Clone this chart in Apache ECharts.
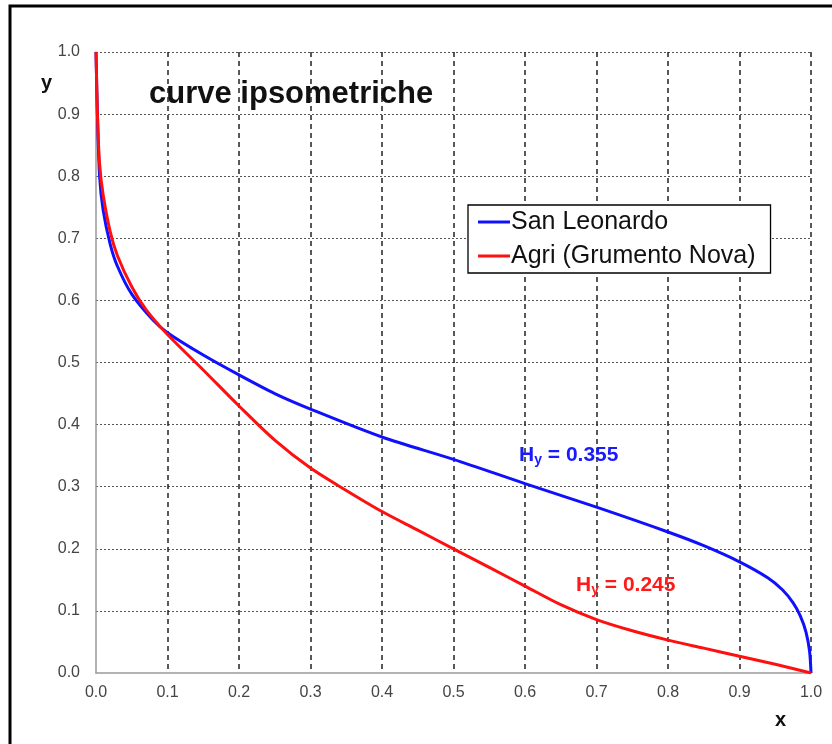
<!DOCTYPE html>
<html><head><meta charset="utf-8">
<script src="https://cdn.jsdelivr.net/npm/echarts@6/dist/echarts.min.js"></script>
<style>html,body{margin:0;padding:0;background:#fff}#c{width:832px;height:744px}</style>
</head><body><div id="c"></div>
<script>
const xTicks = [0.0,0.1,0.2,0.3,0.4,0.5,0.6,0.7,0.8,0.9,1.0];
const sanLeonardoX = [0,0.002,0.005,0.01,0.02,0.03,0.05,0.08,0.1,0.15,0.2,0.25,0.3,0.4,0.5,0.6,0.7,0.8,0.85,0.9,0.94,0.96,0.975,0.985,0.993,0.998,1.0];
const sanLeonardoY = [1.0,0.9,0.8,0.745,0.69,0.655,0.61,0.568,0.548,0.512,0.48,0.45,0.425,0.38,0.344,0.305,0.267,0.227,0.205,0.179,0.153,0.134,0.113,0.092,0.066,0.035,0.0];
const agriX = [0,0.002,0.005,0.01,0.02,0.03,0.05,0.07,0.1,0.15,0.2,0.25,0.3,0.35,0.4,0.45,0.5,0.55,0.6,0.65,0.7,0.75,0.8,0.85,0.9,0.95,1.0];
const agriY = [1.0,0.9,0.82,0.77,0.71,0.672,0.622,0.585,0.545,0.488,0.43,0.375,0.33,0.294,0.26,0.23,0.2,0.17,0.14,0.11,0.086,0.068,0.053,0.04,0.027,0.014,0.0];
const seriesNames = ['San Leonardo','Agri (Grumento Nova)'];
const hyLabels = ['0.355','0.245'];

const chart = echarts.init(document.getElementById('c'));
const font = 'Liberation Sans, Arial, sans-serif';
const zip = (a,b)=>a.map((v,i)=>[v,b[i]]);
const hyRich = c => ({a:{fontSize:21,fontWeight:'bold',fontFamily:font,color:c},s:{fontSize:14,fontWeight:'bold',fontFamily:font,color:c,verticalAlign:'bottom',padding:[9,0,0,0]}});
chart.setOption({
  animation:false,
  backgroundColor:'#fff',
  grid:{left:96,right:21,top:52,bottom:71,containLabel:false},
  xAxis:{type:'value',min:0,max:1,interval:0.1,
    axisLine:{show:true,lineStyle:{color:'#999',width:1.5}},
    axisTick:{show:false},
    axisLabel:{color:'#444',fontSize:16,fontFamily:font,margin:12,formatter:v=>v.toFixed(1)},
    splitLine:{show:true,showMinLine:false,lineStyle:{color:'#222',type:[5,4],width:1.5}}},
  yAxis:{type:'value',min:0,max:1,interval:0.1,
    axisLine:{show:true,lineStyle:{color:'#999',width:1.5}},
    axisTick:{show:false},
    axisLabel:{color:'#444',fontSize:16,fontFamily:font,margin:16,formatter:v=>v.toFixed(1)},
    splitLine:{show:true,showMinLine:false,lineStyle:{color:'#555',type:[2,2],width:1}}},
  legend:{orient:'vertical',left:468,top:205,width:302,
    backgroundColor:'#fff',borderColor:'#000',borderWidth:1.3,borderRadius:0,
    padding:[4,15,4,10],itemGap:8,itemWidth:32,itemHeight:3,icon:'rect',
    textStyle:{fontSize:25,lineHeight:26,fontFamily:font,color:'#111',padding:[0,0,0,-4]},
    data:seriesNames},
  title:[
    {text:'curve ipsometriche',left:144,top:74,textStyle:{fontSize:31,fontWeight:'bold',fontFamily:font,color:'#111'}},
    {text:'y',left:36,top:68,textStyle:{fontSize:20,fontWeight:'bold',fontFamily:font,color:'#111'}},
    {text:'x',left:770,top:705,textStyle:{fontSize:20,fontWeight:'bold',fontFamily:font,color:'#111'}},
    {text:'{a|H}{s|y}{a| = '+hyLabels[0]+'}',left:514,top:439,textStyle:{rich:hyRich('#1a1aff')}},
    {text:'{a|H}{s|y}{a| = '+hyLabels[1]+'}',left:571,top:569,textStyle:{rich:hyRich('#ff1a1a')}}
  ],
  graphic:[{type:'rect',shape:{x:10,y:6,width:840,height:760},style:{fill:null,stroke:'#000',lineWidth:3},silent:true,z:100}],
  series:[
    {name:seriesNames[0],type:'line',data:zip(sanLeonardoX,sanLeonardoY),showSymbol:false,smooth:0.3,lineStyle:{color:'#1010ff',width:3},itemStyle:{color:'#1010ff'}},
    {name:seriesNames[1],type:'line',data:zip(agriX,agriY),showSymbol:false,smooth:0.3,lineStyle:{color:'#ff1010',width:3},itemStyle:{color:'#ff1010'}}
  ]
});
</script></body></html>
